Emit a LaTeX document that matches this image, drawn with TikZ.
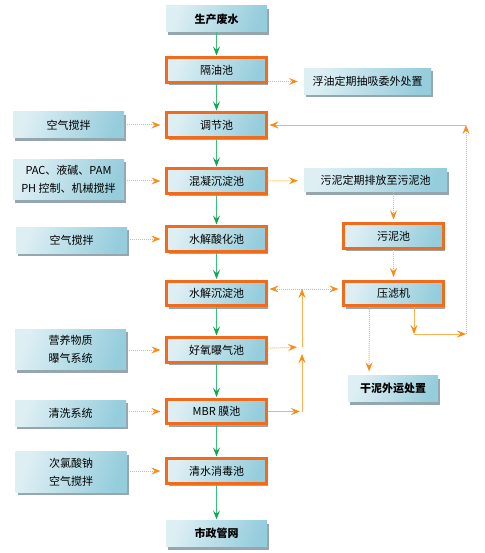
\documentclass[tikz,border=0pt]{standalone}
\usepackage{fontspec}
\usepackage{xcolor}
\usepackage{tikz}
\usetikzlibrary{arrows.meta}
\usetikzlibrary{shadows,calc}
\setmainfont{Noto Sans CJK SC}
\definecolor{boxlight}{RGB}{222,239,244}
\definecolor{boxdark}{RGB}{150,205,220}
\definecolor{boxedge}{RGB}{240,108,28}
\definecolor{shadowc}{RGB}{150,166,174}
\definecolor{greenline}{RGB}{60,190,120}
\definecolor{greentip}{RGB}{20,165,85}
\definecolor{orangeline}{RGB}{255,178,80}
\definecolor{orangetip}{RGB}{250,140,20}

\begin{document}
\begin{tikzpicture}[x=1pt,y=-1pt,
  box/.style={left color=boxlight,right color=boxdark,shading angle=70,
    drop shadow={shadow xshift=2pt,shadow yshift=-3pt,fill=shadowc,opacity=1},
    minimum height=26pt,inner ysep=6pt,align=center,
    font=\fontsize{11}{18}\selectfont},
  mainbox/.style={box,draw=boxedge,line width=2.6pt,minimum width=99.5pt,minimum height=24.5pt},
  plainbox/.style={box,minimum width=101pt,font=\fontsize{11}{18}\selectfont\bfseries},
  sidebox/.style={box,minimum width=111pt},
  flow/.style={greenline,line width=0.8pt,shorten >=1pt,
    -{Stealth[length=9pt,width=7pt,inset=3.5pt,color=greentip]}},
  dotarr/.style={orangeline,line width=1pt,densely dotted,
    -{Stealth[length=9pt,width=7pt,inset=3.5pt,color=orangetip]}},
  feed/.style={dotarr,shorten <=3pt,shorten >=5pt},
  solidarr/.style={orangeline,line width=0.8pt,
    -{Stealth[length=9pt,width=7pt,inset=3.5pt,color=orangetip]}}]
\useasboundingbox[fill=white] (0,0) rectangle (484,553);
% main line
\node[plainbox] (feishui) at (216.5,19) {生产废水};
\node[mainbox] (geyou) at (216.5,70) {隔油池};
\node[mainbox] (tiaojie) at (216.5,125) {调节池};
\node[mainbox] (hunning) at (216.5,181) {混凝沉淀池};
\node[mainbox] (suanhua) at (216.5,239) {水解酸化池};
\node[mainbox] (chendian) at (216.5,293.5) {水解沉淀池};
\node[mainbox] (haoyang) at (216.5,350) {好氧曝气池};
\node[mainbox] (mbr) at (216.5,411.5) {MBR 膜池};
\node[mainbox] (qingshui) at (216.5,471) {清水消毒池};
\node[plainbox] (shizheng) at (216.5,533.5) {市政管网};
% left inputs
\node[sidebox] (kongqi1) at (68.5,125) {空气搅拌};
\node[sidebox] (yaoji) at (68.5,179.5) {PAC、液碱、PAM\\PH 控制、机械搅拌};
\node[sidebox] (kongqi2) at (71.5,240) {空气搅拌};
\node[sidebox] (yingyang) at (70.5,349.5) {营养物质\\曝气系统};
\node[sidebox] (qingxi) at (70.5,413) {清洗系统};
\node[sidebox] (cilv) at (71,472) {次氯酸钠\\空气搅拌};
% sludge side
\node[box,minimum width=127pt] (fuyou) at (367.5,81.5) {浮油定期抽吸委外处置};
\node[box,minimum width=143pt,minimum height=23pt] (paifang) at (375.5,180.5) {污泥定期排放至污泥池};
\node[mainbox] (wunichi) at (393.5,236) {污泥池};
\node[mainbox] (yalv) at (393.5,293.5) {压滤机};
\node[plainbox,minimum width=90pt] (ganni) at (393,388.5) {干泥外运处置};
\coordinate (j1) at (302,289);
\coordinate (j2a) at (302,354);
\coordinate (j2b) at (302,347);
\coordinate (j3) at (302,411.5);
\coordinate (k1) at (414,334);
\coordinate (k2) at (466,334);
\coordinate (k3) at (466,125);

\draw[flow] (feishui) -- (geyou);
\draw[flow] (geyou) -- (tiaojie);
\draw[flow] (tiaojie) -- (hunning);
\draw[flow] (hunning) -- (suanhua);
\draw[flow] (suanhua) -- (chendian);
\draw[flow] (chendian) -- (haoyang);
\draw[flow] (haoyang) -- (mbr);
\draw[flow] (mbr) -- (qingshui);
\draw[flow] (qingshui) -- (shizheng);

\draw[feed] (kongqi1) -- (tiaojie);
\draw[feed] (yaoji.east |- hunning) -- (hunning.west);
\draw[feed] (kongqi2.east |- suanhua) -- (suanhua.west);
\draw[feed] (yingyang.east |- haoyang) -- (haoyang.west);
\draw[feed] (qingxi.east |- mbr) -- (mbr.west);
\draw[feed] (cilv.east |- qingshui) -- (qingshui.west);

\draw[dotarr,shorten >=6pt] (geyou.east |- fuyou) -- (fuyou.west);
\draw[dotarr,shorten >=6pt] (hunning) -- (paifang);
\draw[dotarr,shorten >=3pt] (wunichi.north |- paifang.south) -- (wunichi.north);
\draw[dotarr,shorten >=3pt] (wunichi) -- (yalv);
\draw[dotarr,shorten >=2pt] (j1) -- (j1 -| chendian.east);
\draw[dotarr,shorten >=4pt] (j1) -- (j1 -| yalv.west);
\draw[dotarr,shorten >=5pt] (haoyang) -- (j2b -| j1);
\draw[solidarr,shorten >=2pt] (mbr) -- (j3);
\draw[solidarr] (j3) -- (j2a);
\draw[solidarr] (j2b) -- (j1);
\draw[dotarr,shorten >=4pt] ([xshift=-24pt]yalv.south) -- ([xshift=-24pt]ganni.north);
\draw[solidarr] (yalv.south -| k1) -- (k1);
\draw[solidarr] (k1) -- (k2);
\draw[dotarr] (k2) -- (k3);
\draw[solidarr,shorten >=2pt] (k3) -- (tiaojie.east);
\end{tikzpicture}
\end{document}
